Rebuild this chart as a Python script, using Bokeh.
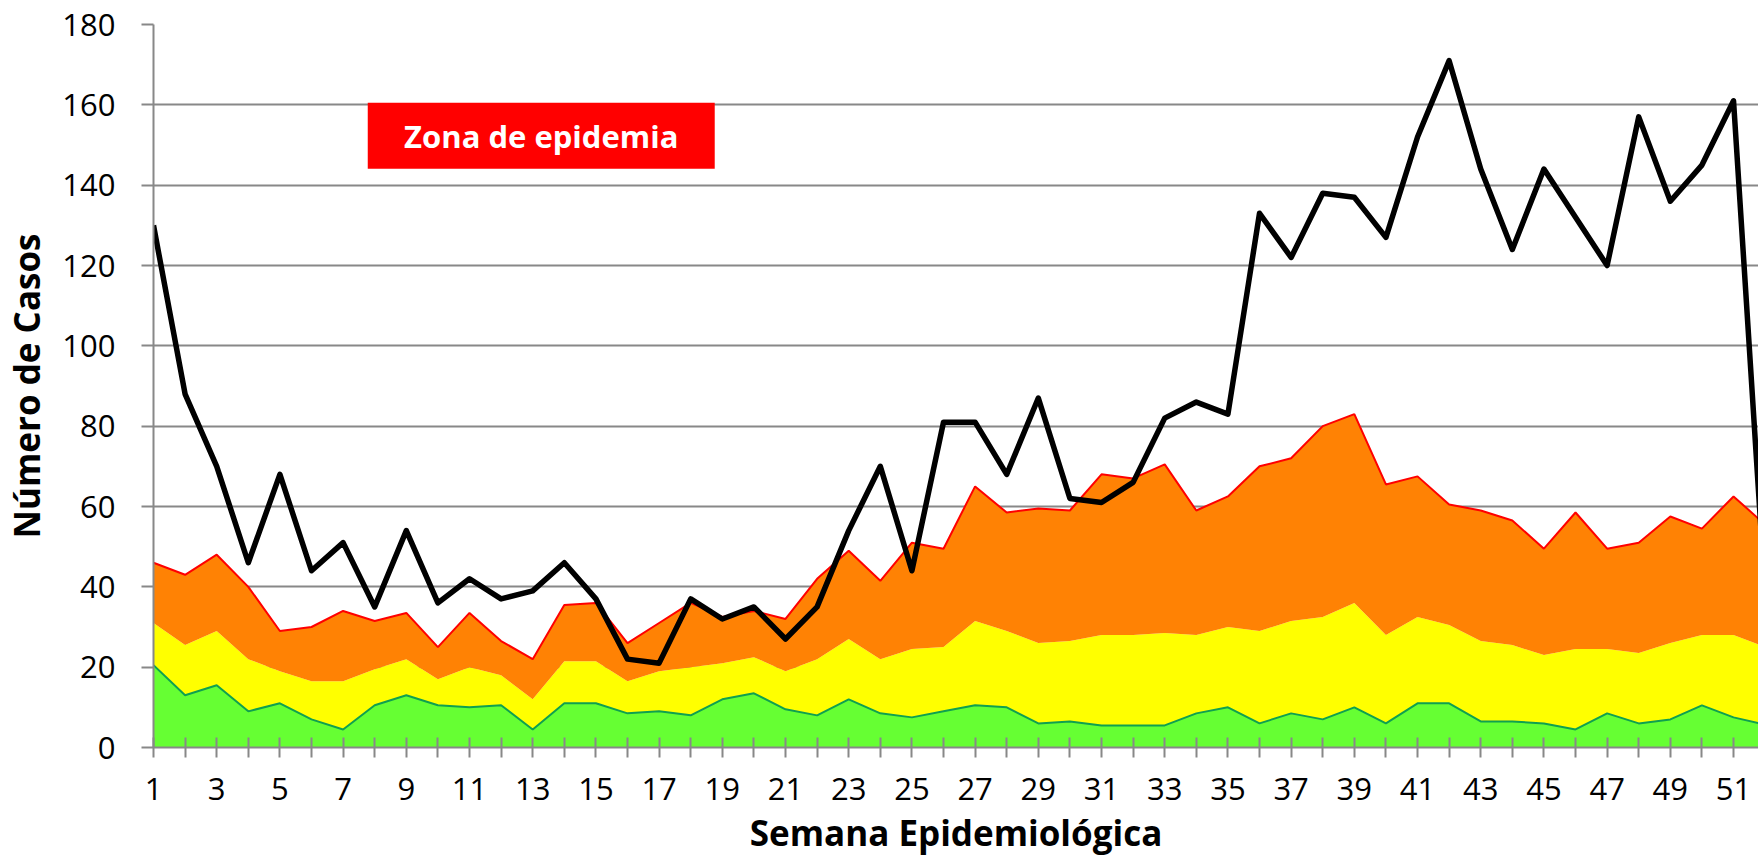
from bokeh.plotting import figure
from bokeh.models import Range1d, FixedTicker, BoxAnnotation, Label
from bokeh.embed import file_html
from bokeh.resources import INLINE

# ---- data ----
semanas = list(range(1, 53))
casos = [130, 88, 70, 46, 68, 44, 51, 35, 54, 36, 42, 37, 39, 46, 37, 22, 21, 37, 32, 35,
         27, 35, 54, 70, 44, 81, 81, 68, 87, 62, 61, 66, 82, 86, 83, 133, 122, 138, 137, 127,
         152, 171, 144, 124, 144, 132, 120, 157, 136, 145, 161, 38]
zona_exito = [20.5, 13, 15.5, 9, 11, 7, 4.5, 10.5, 13, 10.5, 10, 10.5, 4.5, 11, 11, 8.5, 9, 8, 12, 13.5,
              9.5, 8, 12, 8.5, 7.5, 9, 10.5, 10, 6, 6.5, 5.5, 5.5, 5.5, 8.5, 10, 6, 8.5, 7, 10, 6,
              11, 11, 6.5, 6.5, 6, 4.5, 8.5, 6, 7, 10.5, 7.5, 5.7]
zona_seguridad = [31, 25.5, 29, 22, 19, 16.5, 16.5, 19.5, 22, 17, 20, 18, 12, 21.5, 21.5, 16.5, 19, 20, 21, 22.5,
                  19, 22, 27, 22, 24.5, 25, 31.5, 29, 26, 26.5, 28, 28, 28.5, 28, 30, 29, 31.5, 32.5, 36, 28,
                  32.5, 30.5, 26.5, 25.5, 23, 24.5, 24.5, 23.5, 26, 28, 28, 25]
zona_alarma = [46, 43, 48, 40, 29, 30, 34, 31.5, 33.5, 25, 33.5, 26.5, 22, 35.5, 36, 26, 31, 36, 32.5, 34,
               32, 42, 49, 41.5, 51, 49.5, 65, 58.5, 59.5, 59, 68, 67, 70.5, 59, 62.5, 70, 72, 80, 83, 65.5,
               67.5, 60.5, 59, 56.5, 49.5, 58.5, 49.5, 51, 57.5, 54.5, 62.5, 55.5]
base = [0] * len(semanas)
y_ticks = [0, 20, 40, 60, 80, 100, 120, 140, 160, 180]
x_ticks = [w for w in semanas if w % 2 == 1]
x_minor = [w for w in semanas if w % 2 == 0]
etiqueta = "Zona de epidemia"
titulo_x = "Semana Epidemiológica"
titulo_y = "Número de Casos"

FONT = "Open Sans"
GRID = "#888888"
X_START, X_END = 1, 51.79

p = figure(width=1758, height=863, output_backend="svg", toolbar_location=None,
           x_range=Range1d(X_START, X_END), y_range=Range1d(0, 180),
           min_border_left=151, min_border_right=0, min_border_top=24, min_border_bottom=116)
p.outline_line_color = None
p.background_fill_color = "white"
p.border_fill_color = "white"

# bands
p.varea(x=semanas, y1=base, y2=zona_exito, fill_color="#66FF33")
p.varea(x=semanas, y1=zona_exito, y2=zona_seguridad, fill_color="#FFFF00")
p.varea(x=semanas, y1=zona_seguridad, y2=zona_alarma, fill_color="#FF8204")
p.line(x=semanas, y=zona_exito, line_color="#0FA050", line_width=2)
p.line(x=semanas, y=zona_alarma, line_color="#FF0000", line_width=2)
p.line(x=semanas, y=casos, line_color="black", line_width=5.5, line_join="round")

# annotation box
p.add_layout(BoxAnnotation(left=7.78, right=18.76, bottom=144.1, top=160.5,
                           fill_color="#FF0000", fill_alpha=1, line_color=None))
p.add_layout(Label(x=13.27, y=152.3, text=etiqueta, text_color="white",
                   text_font=FONT, text_font_style="bold", text_font_size="31px",
                   text_align="center", text_baseline="middle"))

# grid
p.xgrid.grid_line_color = None
p.ygrid.grid_line_color = GRID
p.ygrid.grid_line_width = 2
p.ygrid.ticker = FixedTicker(ticks=y_ticks)

# x axis
xa = p.xaxis[0]
xa.ticker = FixedTicker(ticks=x_ticks, minor_ticks=x_minor)
xa.axis_line_color = GRID
xa.axis_line_width = 2
xa.major_tick_line_color = GRID
xa.major_tick_line_width = 2
xa.minor_tick_line_color = GRID
xa.minor_tick_line_width = 2
xa.major_tick_in = 10
xa.major_tick_out = 10
xa.minor_tick_in = 10
xa.minor_tick_out = 10
xa.major_label_text_font = FONT
xa.major_label_text_font_size = "31px"
xa.major_label_text_color = "black"
xa.major_label_standoff = 20
xa.axis_label = titulo_x
xa.axis_label_text_font = FONT
xa.axis_label_text_font_size = "35px"
xa.axis_label_text_font_style = "bold"
xa.axis_label_text_color = "black"
xa.axis_label_standoff = 6

# y axis
ya = p.yaxis[0]
ya.ticker = FixedTicker(ticks=y_ticks)
ya.axis_line_color = GRID
ya.axis_line_width = 2
ya.major_tick_line_color = GRID
ya.major_tick_line_width = 2
ya.major_tick_in = 0
ya.major_tick_out = 12
ya.minor_tick_line_color = None
ya.major_label_text_font = FONT
ya.major_label_text_font_size = "31px"
ya.major_label_text_color = "black"
ya.major_label_standoff = 26
ya.axis_label = titulo_y
ya.axis_label_text_font = FONT
ya.axis_label_text_font_size = "35px"
ya.axis_label_text_font_style = "bold"
ya.axis_label_text_color = "black"
ya.axis_label_standoff = 9

open("out.html", "w").write(file_html(p, INLINE))
